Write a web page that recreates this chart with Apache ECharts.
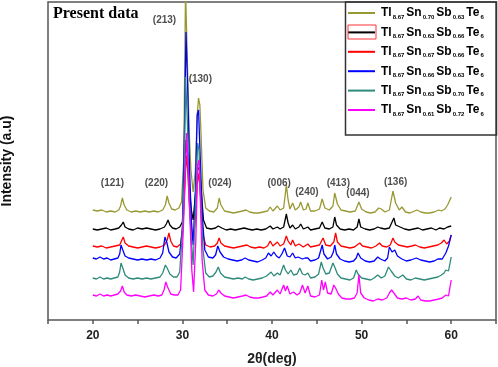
<!DOCTYPE html>
<html>
<head>
<meta charset="utf-8">
<script src="https://cdn.jsdelivr.net/npm/echarts@6/dist/echarts.min.js"></script>
<style>
  html, body { margin: 0; padding: 0; background: #fff; }
  #main { width: 498px; height: 367px; }
</style>
</head>
<body>
<div id="main"></div>
<script>
// sample names (legend order) and colours
var names = ['Tl8.67Sn0.70Sb0.63Te6', 'Tl8.67Sn0.63Sb0.66Te6', 'Tl8.67Sn0.67Sb0.66Te6',
             'Tl8.67Sn0.66Sb0.63Te6', 'Tl8.67Sn0.63Sb0.70Te6', 'Tl8.67Sn0.61Sb0.72Te6'];
var colors = ['#999933', '#000000', '#ff0000', '#0000ff', '#2e8b7b', '#ff00ff'];

// 2theta (deg), intensity (a.u., curves already offset as plotted)
var sn070 = [[20.0,110],[20.5,109],[21.0,110],[21.5,108],[22.0,109],[22.5,108],[22.9,110],[23.1,114],[23.3,122],[23.5,115],[23.8,110],[24.3,108],[24.8,109],[25.3,108],[25.8,109],[26.3,108],[26.8,109],[27.3,108],[27.8,110],[28.1,115],[28.3,124],[28.5,117],[28.8,111],[29.2,110],[29.6,112],[29.9,118],[30.15,160],[30.35,330],[30.55,330],[30.75,190],[30.95,150],[31.2,128],[31.45,150],[31.65,205],[31.8,222],[31.95,215],[32.1,180],[32.3,130],[32.6,112],[33.0,109],[33.5,108],[33.9,112],[34.1,122],[34.3,115],[34.7,109],[35.2,108],[35.7,107],[36.2,108],[36.7,109],[37.1,110],[37.5,108],[38.0,107],[38.5,107],[39.0,108],[39.5,109],[39.8,113],[40.1,109],[40.6,114],[40.9,110],[41.3,112],[41.6,135],[41.8,120],[42.0,111],[42.3,117],[42.6,110],[43.0,113],[43.2,118],[43.5,110],[43.8,111],[44.0,117],[44.3,109],[44.8,109],[45.3,111],[45.6,121],[45.9,112],[46.4,110],[46.8,114],[47.0,127],[47.3,116],[47.7,110],[48.2,109],[48.7,108],[49.3,109],[49.7,118],[50.0,111],[50.5,108],[51.0,107],[51.5,108],[51.9,112],[52.2,111],[52.6,108],[53.1,110],[53.5,129],[53.8,117],[54.2,110],[54.5,113],[54.9,108],[55.4,107],[55.9,109],[56.2,110],[56.6,108],[57.1,107],[57.6,107],[58.1,108],[58.6,110],[58.9,109],[59.3,111],[59.6,115],[60.0,123]];
var sn063a = [[20.0,91],[20.5,90],[21.0,91],[21.5,92],[22.0,90],[22.5,91],[22.9,92],[23.2,95],[23.4,98],[23.6,93],[24.0,91],[24.5,90],[25.0,92],[25.5,91],[26.0,92],[26.5,91],[27.0,90],[27.5,91],[28.0,93],[28.2,96],[28.4,100],[28.6,95],[28.9,92],[29.3,91],[29.7,93],[30.0,98],[30.2,130],[30.4,180],[30.6,165],[30.8,130],[31.0,110],[31.2,100],[31.45,125],[31.7,150],[31.9,153],[32.1,130],[32.35,100],[32.7,92],[33.2,91],[33.7,92],[34.0,94],[34.2,96],[34.4,92],[34.9,90],[35.4,91],[35.9,90],[36.4,91],[36.9,92],[37.3,91],[37.8,90],[38.3,91],[38.8,90],[39.3,91],[39.8,94],[40.1,91],[40.6,93],[40.9,91],[41.3,93],[41.6,106],[41.8,97],[42.0,92],[42.3,95],[42.6,91],[43.0,93],[43.2,96],[43.5,91],[44.0,93],[44.3,90],[44.8,91],[45.3,92],[45.6,98],[45.9,92],[46.4,91],[46.8,93],[47.0,103],[47.2,95],[47.6,91],[48.1,90],[48.6,91],[49.1,90],[49.5,93],[49.7,101],[49.9,93],[50.4,91],[50.9,90],[51.4,91],[51.8,93],[52.1,92],[52.6,91],[53.1,92],[53.4,98],[53.6,102],[53.8,95],[54.3,93],[54.8,91],[55.3,90],[55.8,91],[56.3,92],[56.8,90],[57.3,91],[57.8,92],[58.3,90],[58.7,92],[59.2,91],[59.6,93],[60.0,94]];
var sn067 = [[20.0,74],[20.5,73],[21.0,74],[21.5,72],[22.0,73],[22.5,74],[23.0,75],[23.2,79],[23.4,83],[23.6,77],[24.0,74],[24.5,73],[25.0,72],[25.5,73],[26.0,74],[26.5,73],[27.0,72],[27.5,73],[28.0,75],[28.3,80],[28.5,87],[28.7,79],[29.0,74],[29.4,73],[29.8,76],[30.1,100],[30.35,150],[30.5,165],[30.7,130],[30.9,100],[31.15,80],[31.4,95],[31.65,135],[31.85,147],[32.05,120],[32.3,85],[32.6,75],[33.1,73],[33.6,74],[33.9,77],[34.1,82],[34.3,77],[34.7,74],[35.2,73],[35.7,72],[36.2,73],[36.7,74],[37.2,75],[37.6,73],[38.1,72],[38.6,73],[39.1,72],[39.5,74],[39.8,79],[40.1,74],[40.6,78],[40.9,74],[41.3,76],[41.6,84],[41.8,79],[42.1,75],[42.3,80],[42.6,74],[43.0,76],[43.2,78],[43.5,73],[44.0,76],[44.3,73],[44.8,74],[45.3,75],[45.7,82],[46.0,75],[46.5,74],[46.9,78],[47.1,87],[47.3,78],[47.7,74],[48.2,73],[48.7,72],[49.2,73],[49.5,75],[49.8,77],[50.1,74],[50.6,73],[51.1,72],[51.6,74],[52.0,77],[52.3,74],[52.8,73],[53.2,75],[53.5,82],[53.7,78],[54.1,75],[54.6,74],[55.1,73],[55.6,74],[56.0,75],[56.5,73],[57.0,72],[57.5,73],[58.0,74],[58.5,75],[58.9,77],[59.2,80],[59.5,76],[59.8,79],[60.0,85]];
var sn066 = [[20.0,62],[20.4,61],[20.8,63],[21.2,61],[21.6,62],[22.0,60],[22.4,61],[22.8,62],[23.0,66],[23.15,75],[23.35,70],[23.6,64],[24.0,62],[24.5,61],[25.0,60],[25.5,61],[26.0,60],[26.5,61],[27.0,60],[27.5,62],[27.8,67],[28.05,83],[28.25,78],[28.5,68],[28.9,63],[29.3,62],[29.7,66],[30.0,90],[30.25,200],[30.4,288],[30.6,230],[30.8,150],[31.0,100],[31.2,75],[31.45,130],[31.65,205],[31.8,210],[32.0,160],[32.25,100],[32.5,70],[32.9,63],[33.4,62],[33.7,65],[33.95,74],[34.2,68],[34.6,63],[35.1,61],[35.6,60],[36.1,59],[36.6,60],[37.0,62],[37.4,60],[37.9,59],[38.4,58],[38.9,60],[39.3,62],[39.6,67],[39.9,64],[40.2,68],[40.5,64],[40.8,62],[41.1,66],[41.4,72],[41.7,64],[42.0,63],[42.3,67],[42.6,62],[42.9,63],[43.1,65],[43.4,61],[43.7,62],[44.0,62],[44.3,59],[44.8,60],[45.2,62],[45.45,70],[45.6,75],[45.8,66],[46.2,61],[46.6,63],[46.85,68],[47.0,75],[47.2,66],[47.6,61],[48.1,59],[48.6,58],[49.1,59],[49.4,62],[49.6,67],[49.9,62],[50.4,59],[50.9,58],[51.4,59],[51.8,63],[52.1,61],[52.6,59],[52.9,62],[53.1,73],[53.4,68],[53.7,70],[54.0,64],[54.5,61],[55.0,59],[55.5,60],[56.1,62],[56.6,60],[57.1,59],[57.6,58],[58.1,59],[58.5,61],[58.7,63],[59.0,61],[59.4,67],[59.7,74],[60.0,85]];
var sn063b = [[20.0,42],[20.4,41],[20.8,43],[21.2,41],[21.6,42],[22.0,41],[22.4,42],[22.8,43],[23.0,48],[23.15,57],[23.35,52],[23.6,45],[24.0,42],[24.5,41],[25.0,42],[25.5,41],[26.0,42],[26.5,41],[27.0,42],[27.5,43],[27.8,47],[28.1,55],[28.3,52],[28.6,46],[29.0,43],[29.4,43],[29.7,48],[30.0,90],[30.2,140],[30.35,243],[30.55,200],[30.75,120],[31.0,80],[31.2,55],[31.45,110],[31.7,177],[31.85,170],[32.05,120],[32.3,70],[32.6,47],[33.0,43],[33.4,44],[33.75,48],[34.0,53],[34.25,47],[34.7,43],[35.2,42],[35.7,41],[36.2,42],[36.7,41],[37.0,43],[37.4,41],[37.9,40],[38.4,41],[38.9,42],[39.4,44],[39.9,48],[40.2,44],[40.6,47],[40.9,45],[41.3,55],[41.5,50],[41.8,46],[42.1,50],[42.4,45],[42.8,46],[43.1,52],[43.4,46],[43.7,45],[44.0,47],[44.3,42],[44.8,43],[45.2,46],[45.5,58],[45.7,52],[46.0,46],[46.4,47],[46.8,57],[47.0,53],[47.3,46],[47.7,42],[48.2,41],[48.7,40],[49.1,42],[49.4,50],[49.6,46],[50.0,42],[50.5,41],[51.0,40],[51.4,42],[51.8,45],[52.2,42],[52.6,44],[53.0,53],[53.3,49],[53.7,44],[54.1,42],[54.6,45],[55.0,41],[55.5,40],[56.0,42],[56.5,41],[57.0,40],[57.5,41],[58.0,42],[58.5,43],[58.9,45],[59.2,47],[59.4,50],[59.7,49],[60.0,63]];
var sn061 = [[20.0,25],[20.4,24],[20.8,26],[21.2,24],[21.6,25],[22.0,24],[22.4,25],[22.8,26],[23.1,29],[23.3,34],[23.5,28],[23.8,25],[24.3,24],[24.8,25],[25.3,24],[25.8,23],[26.3,24],[26.8,25],[27.3,24],[27.7,25],[27.95,30],[28.15,38],[28.35,33],[28.7,26],[29.1,25],[29.5,25],[29.8,30],[30.1,90],[30.3,140],[30.45,187],[30.65,150],[30.85,100],[31.05,50],[31.25,28],[31.5,80],[31.7,155],[31.85,160],[32.0,120],[32.2,60],[32.5,30],[32.9,25],[33.4,24],[33.8,26],[34.05,30],[34.3,27],[34.7,24],[35.2,23],[35.7,22],[36.2,23],[36.7,24],[37.1,25],[37.5,23],[38.0,22],[38.5,22],[39.0,23],[39.4,24],[39.8,28],[40.1,25],[40.6,30],[40.9,26],[41.3,35],[41.5,29],[41.7,34],[42.0,26],[42.4,28],[42.8,25],[43.1,27],[43.4,35],[43.7,27],[44.0,34],[44.3,24],[44.8,23],[45.3,25],[45.55,40],[45.75,30],[45.95,38],[46.2,27],[46.6,26],[46.9,35],[47.1,32],[47.4,26],[47.8,22],[48.3,21],[48.8,21],[49.2,22],[49.5,27],[49.7,45],[49.9,27],[50.3,22],[50.8,20],[51.3,19],[51.8,21],[52.3,20],[52.8,22],[53.1,27],[53.35,30],[53.6,27],[54.0,22],[54.5,21],[55.0,22],[55.5,20],[56.0,21],[56.3,24],[56.6,20],[57.1,19],[57.6,19],[58.1,20],[58.6,21],[59.0,22],[59.4,25],[59.7,24],[60.0,40]];
var patterns = [sn070, sn063a, sn067, sn066, sn063b, sn061];

// (hkl) labels: [2theta, intensity, text]
var hklLabels = [[22.2,137,'(121)'],[27.1,137,'(220)'],[34.2,137,'(024)'],[40.8,137,'(006)'],
                 [43.9,128,'(240)'],[47.4,137,'(413)'],[49.6,127,'(044)'],[53.8,138,'(136)'],
                 [28.0,300,'(213)'],[32.0,241,'(130)']];

var xTicks = [20, 30, 40, 50, 60];

var myChart = echarts.init(document.getElementById('main'));

var series = [];
for (var i = 0; i < names.length; i++) {
    series.push({
        name: names[i],
        type: 'line',
        data: patterns[i],
        symbol: 'none',
        color: colors[i],
        lineStyle: { width: 1.3 },
        z: 2 + i
    });
}
series.push({
    name: 'hkl',
    type: 'scatter',
    data: hklLabels,
    symbolSize: 0,
    z: 20,
    label: {
        show: true,
        position: 'inside',
        formatter: function (p) { return p.value[2]; },
        color: '#222',
        fontSize: 10,
        fontWeight: 'bold',
        fontFamily: 'Arial'
    }
});

var option = {
    animation: false,
    grid: { left: 48, right: 2, top: 2, bottom: 47, outerBoundsMode: 'none', containLabel: false,
            show: true, borderColor: '#555', borderWidth: 1.5 },
    legend: {
        data: names,
        orient: 'vertical',
        left: 348,
        top: 7,
        padding: 0,
        icon: 'path://M0,0 L27,0 L27,2 L0,2 Z',
        symbolKeepAspect: true,
        itemWidth: 27,
        itemHeight: 14,
        itemGap: 6.4,
        formatter: function (name) {
            var m = name.match(/Tl(.*)Sn(.*)Sb(.*)Te(.*)/);
            return '{b|Tl}{s|' + m[1] + '}{b|Sn}{s|' + m[2] + '}{b|Sb}{s|' + m[3] + '}{b|Te}{s|' + m[4] + '}';
        },
        textStyle: {
            rich: {
                b: { fontSize: 12, fontWeight: 'bold', fontFamily: 'Arial', color: '#000', padding: [0, 1, 0, 1] },
                s: { fontSize: 6, fontWeight: 'bold', fontFamily: 'Arial', color: '#000', padding: [8, 1, 0, 0] }
            }
        }
    },
    xAxis: {
        type: 'value',
        min: 15,
        max: 65,
        interval: 5,
        name: '2θ(deg)',
        nameLocation: 'middle',
        nameGap: 32,
        nameTextStyle: { fontSize: 14, fontWeight: 'bold', fontFamily: 'Arial', color: '#222' },
        axisLine: { show: false },
        axisTick: { show: true, length: 4, lineStyle: { color: '#555', width: 1.5 } },
        splitLine: { show: false },
        axisLabel: {
            margin: 10,
            fontSize: 12,
            fontWeight: 'bold',
            fontFamily: 'Arial',
            color: '#222',
            formatter: function (v) { return xTicks.indexOf(v) >= 0 ? String(v) : ''; }
        }
    },
    yAxis: {
        type: 'value',
        min: 0,
        max: 318,
        name: 'Intensity (a.u)',
        nameLocation: 'middle',
        nameGap: 34,
        nameTextStyle: { fontSize: 14, fontWeight: 'bold', fontFamily: 'Arial', color: '#111' },
        axisLine: { show: false },
        axisTick: { show: false },
        axisLabel: { show: false },
        splitLine: { show: false }
    },
    graphic: [
        { type: 'text', left: 53, top: 6, z: 30,
          style: { text: 'Present data', font: 'bold 16px "Liberation Serif", "Times New Roman", serif', fill: '#000' } },
        { type: 'rect', shape: { x: 345.5, y: 2, width: 151, height: 133 }, z: 1,
          style: { fill: 'none', stroke: '#333', lineWidth: 1.5 } },
        { type: 'rect', shape: { x: 348, y: 25, width: 28, height: 14 }, z: 40,
          style: { fill: 'none', stroke: '#ff3333', lineWidth: 1 } }
    ],
    series: series
};

myChart.setOption(option);
</script>
</body>
</html>
